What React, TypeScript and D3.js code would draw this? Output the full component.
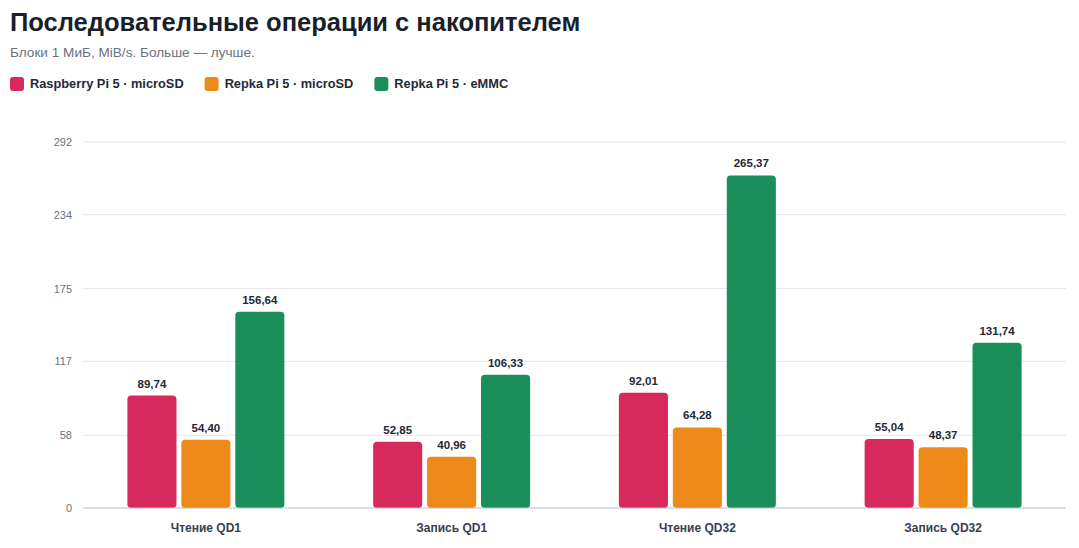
import React, { useEffect, useRef } from 'react';
import * as d3 from 'd3';

const categories = ['Чтение QD1', 'Запись QD1', 'Чтение QD32', 'Запись QD32'];
const seriesNames = ['Raspberry Pi 5 · microSD', 'Repka Pi 5 · microSD', 'Repka Pi 5 · eMMC'];
const rpiMicroSD = [89.74, 52.85, 92.01, 55.04];
const repkaMicroSD = [54.4, 40.96, 64.28, 48.37];
const repkaEmmc = [156.64, 106.33, 265.37, 131.74];
const yTicks = [0, 58, 117, 175, 234, 292];
const colors = ['#d7295b', '#ee8a1a', '#1a8f5b'];

const App = () => {
  const svgRef = useRef(null);

  useEffect(() => {
    const width = 1079;
    const height = 548;
    const svg = d3.select(svgRef.current);
    svg.selectAll('*').remove();
    svg.attr('width', width).attr('height', height);

    const font = '"Liberation Sans", Arial, sans-serif';
    const series = [rpiMicroSD, repkaMicroSD, repkaEmmc];

    // title + subtitle
    svg.append('text')
      .attr('x', 10).attr('y', 31)
      .attr('font-family', font).attr('font-size', 25.5).attr('font-weight', 700)
      .attr('fill', '#1a1f2b')
      .text('Последовательные операции с накопителем');
    svg.append('text')
      .attr('x', 10).attr('y', 57)
      .attr('font-family', font).attr('font-size', 13.6)
      .attr('fill', '#6b7280')
      .text('Блоки 1 МиБ, MiB/s. Больше — лучше.');

    // legend
    let lx = 10;
    seriesNames.forEach((name, i) => {
      const g = svg.append('g').attr('transform', `translate(${lx},0)`);
      g.append('rect')
        .attr('x', 0).attr('y', 77).attr('width', 14).attr('height', 14).attr('rx', 3)
        .attr('fill', colors[i]);
      const t = g.append('text')
        .attr('x', 20).attr('y', 88)
        .attr('font-family', font).attr('font-size', 12.8).attr('font-weight', 700)
        .attr('fill', '#1f2937')
        .text(name);
      const w = (t.node() as any).getComputedTextLength();
      lx += 20 + w + 21;
    });

    // scales
    const y = d3.scaleLinear().domain([0, 292]).range([508, 142]);
    const x0 = d3.scaleBand().domain(categories).range([83, 1066]).paddingInner(0).paddingOuter(0);
    const groupW = 157;
    const x1 = d3.scaleBand().domain(seriesNames).range([0, groupW]).paddingInner(0.09);

    // grid + y labels
    yTicks.forEach((t) => {
      if (t > 0) {
        svg.append('line')
          .attr('x1', 83).attr('x2', 1066)
          .attr('y1', y(t)).attr('y2', y(t))
          .attr('stroke', '#e5e7eb').attr('stroke-width', 1);
      }
      svg.append('text')
        .attr('x', 72).attr('y', y(t)).attr('dy', '0.35em')
        .attr('text-anchor', 'end')
        .attr('font-family', font).attr('font-size', 11)
        .attr('fill', '#6b7280')
        .text(t);
    });

    // bars
    categories.forEach((c, ci) => {
      const gx = (x0(c) as number) + (x0.bandwidth() - groupW) / 2;
      series.forEach((vals, si) => {
        const v = vals[ci];
        const bx = gx + (x1(seriesNames[si]) as number);
        svg.append('rect')
          .attr('x', bx).attr('y', y(v))
          .attr('width', x1.bandwidth()).attr('height', y(0) - y(v))
          .attr('rx', 4)
          .attr('fill', colors[si]);
        svg.append('text')
          .attr('x', bx + x1.bandwidth() / 2).attr('y', y(v) - 8)
          .attr('text-anchor', 'middle')
          .attr('font-family', font).attr('font-size', 11.5).attr('font-weight', 700)
          .attr('fill', '#1f2937')
          .text(d3.format('.2f')(v).replace('.', ','));
      });
      svg.append('text')
        .attr('x', (x0(c) as number) + x0.bandwidth() / 2).attr('y', 532)
        .attr('text-anchor', 'middle')
        .attr('font-family', font).attr('font-size', 12).attr('font-weight', 700)
        .attr('fill', '#374151')
        .text(c);
    });

    // baseline
    svg.append('line')
      .attr('x1', 83).attr('x2', 1066)
      .attr('y1', y(0)).attr('y2', y(0))
      .attr('stroke', '#b6c0ce').attr('stroke-width', 1);
  }, []);

  return (
    <svg
      ref={svgRef}
      style={{ position: 'absolute', left: 0, top: 0, background: '#fff' }}
    />
  );
};

export default App;
